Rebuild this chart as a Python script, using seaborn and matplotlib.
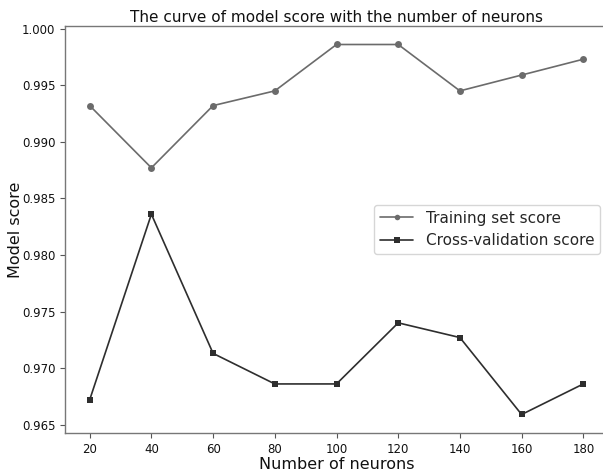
import matplotlib
matplotlib.use('Agg')
import matplotlib.pyplot as plt
import seaborn as sns
import pandas as pd

# neurons vs. scores
neurons = [20, 40, 60, 80, 100, 120, 140, 160, 180]
train_score = [0.9932, 0.9877, 0.9932, 0.9945, 0.9986, 0.9986, 0.9945, 0.9959, 0.9973]
cv_score = [0.9672, 0.9836, 0.9713, 0.9686, 0.9686, 0.9740, 0.9727, 0.9659, 0.9686]

df = pd.DataFrame({'neurons': neurons, 'train': train_score, 'cv': cv_score})

sns.set_style('ticks')
plt.rcParams['font.family'] = ['DejaVu Sans']

fig = plt.figure(figsize=(6.03, 4.71), dpi=100)
ax = fig.add_axes([0.1078, 0.0807, 0.9005, 0.8641])

sns.lineplot(data=df, x='neurons', y='train', ax=ax, color='#6b6b6b', marker='o',
             markersize=5, markeredgewidth=0, linewidth=1.2, label='Training set score')
sns.lineplot(data=df, x='neurons', y='cv', ax=ax, color='#2e2e2e', marker='s',
             markersize=5, markeredgewidth=0, linewidth=1.2, label='Cross-validation score')

ax.set_xticks(neurons)
ax.set_yticks([0.965, 0.970, 0.975, 0.980, 0.985, 0.990, 0.995, 1.000])
ax.set_yticklabels([f'{v:.3f}' for v in ax.get_yticks()])
ax.tick_params(labelsize=8.5, labelcolor='#111111', color='#555555', length=3.5, width=0.8)
for s in ax.spines.values():
    s.set_color('#777777')
    s.set_linewidth(1.0)
ax.spines['right'].set_visible(False)

ax.set_xlabel('Number of neurons', fontsize=11.5, labelpad=1, color='#111111')
ax.set_ylabel('Model score', fontsize=11.5, labelpad=-1, color='#111111')
ax.set_title('The curve of model score with the number of neurons', fontsize=11, pad=3,
             color='#111111')
ax.legend(loc='center right', fontsize=11, handlelength=2.2, markerscale=0.8)

fig.savefig('out.png', dpi=100)
